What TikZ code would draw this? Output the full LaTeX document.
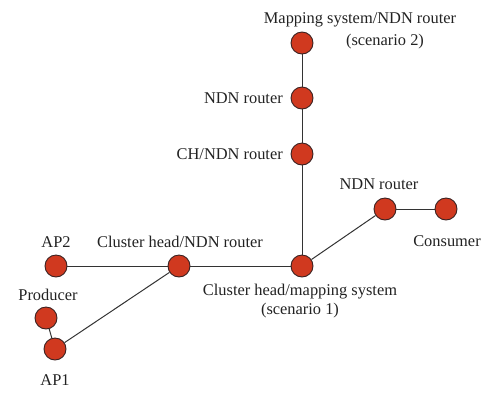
\documentclass[tikz,border=0pt]{standalone}
\usepackage{fontspec}
\setmainfont{Liberation Serif}
\definecolor{nodered}{HTML}{D0391F}
\definecolor{nodeedge}{HTML}{3A2222}
\definecolor{linegray}{HTML}{333333}
\definecolor{textgray}{HTML}{222222}
\begin{document}
\begin{tikzpicture}[x=1pt,y=-1pt,
  dev/.style={circle,fill=nodered,draw=nodeedge,line width=0.9pt,minimum size=22pt,inner sep=0pt},
  lbl/.style={inner sep=0pt,text=textgray,font=\fontsize{16.4}{19}\selectfont,align=center},
  link/.style={draw=linegray,line width=1pt}]
\useasboundingbox (0,0) rectangle (500,400);
\node[dev] (map) at (302,43) {};
\node[dev] (ndn1) at (302,98) {};
\node[dev] (ch) at (302,154) {};
\node[dev] (chms) at (302,266) {};
\node[dev] (ndn2) at (385,209) {};
\node[dev] (cons) at (446,209) {};
\node[dev] (chndn) at (179,266) {};
\node[dev] (ap2) at (56,266) {};
\node[dev] (prod) at (46,318) {};
\node[dev] (ap1) at (55,349) {};
\draw[link] (map) -- (ndn1);
\draw[link] (ndn1) -- (ch);
\draw[link] (ch) -- (chms);
\draw[link] (chms) -- (ndn2);
\draw[link] (ndn2) -- (cons);
\draw[link] (chms) -- (chndn);
\draw[link] (chndn) -- (ap2);
\draw[link] (chndn) -- (ap1);
\draw[link] (prod) -- (ap1);
\node[lbl] (tmap) at (360,20) {Mapping system/NDN router};
\node[lbl] (tmap2) at (385,42) {(scenario 2)};
\node[lbl,anchor=east] (tndn1) at (283,98) {NDN router};
\node[lbl,anchor=east] (tch) at (283,154) {CH/NDN router};
\node[lbl] (tndn2) at (379,184) {NDN router};
\node[lbl] (tcons) at (447,241) {Consumer};
\node[lbl] (tap2) at (56,242) {AP2};
\node[lbl] (tchndn) at (180,242) {Cluster head/NDN router};
\node[lbl] (tchms) at (300,292) {Cluster head/mapping system};
\node[lbl] (tchms2) at (300,311) {(scenario 1)};
\node[lbl] (tprod) at (48,295) {Producer};
\node[lbl] (tap1) at (55,380) {AP1};
\end{tikzpicture}
\end{document}
